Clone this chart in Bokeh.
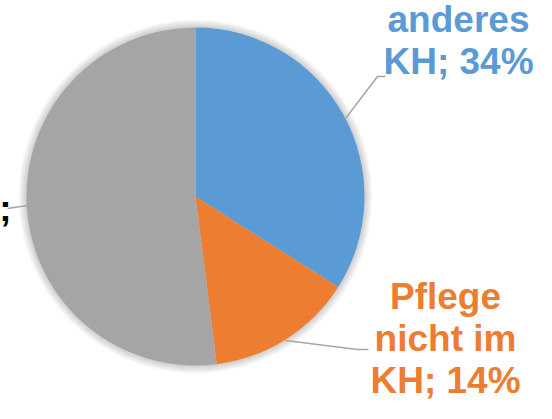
import numpy as np
from bokeh.plotting import figure
from bokeh.models import Range1d, ColumnDataSource
from bokeh.core.properties import value
from bokeh.embed import file_html
from bokeh.resources import INLINE

# ---- data ----
categories = ["anderes KH", "Pflege nicht im KH", "gleiches KH"]
shares = [34, 14, 52]
colors = ["#5B9BD5", "#ED7D31", "#A5A5A5"]
label_lines = [["anderes", "KH; 34%"], ["Pflege", "nicht im", "KH; 14%"], ["gleiches KH;"]]
label_colors = ["#5B9BD5", "#ED7D31", "#000000"]

# ---- layout (image pixel coords, y downward; data y = -img_y) ----
W, H = 536, 403
cx, cy, r = 195, 196, 169
label_anchor = [(458, 19, "center"), (445, 296, "center"), (11, 208, "right")]
line_h = 42
leaders = [
    [(345, 118), (377, 76), (385, 76)],
    [(285, 340), (357, 349), (368, 349)],
    [(27, 205), (7, 208)],
]

p = figure(width=W, height=H, x_range=Range1d(0, W), y_range=Range1d(-H, 0),
           min_border=0, toolbar_location=None, output_backend="svg")
p.axis.visible = False
p.grid.visible = False
p.outline_line_color = None
p.background_fill_color = "white"
p.border_fill_color = "white"

# soft glow around the pie
for k in range(8, 0, -1):
    p.circle(x=[cx], y=[-cy], radius=r + k, fill_color="black", fill_alpha=0.022, line_color=None)

vals = np.array(shares, dtype=float)
frac = vals / vals.sum()
cum = np.concatenate([[0], np.cumsum(frac)])
start = np.pi / 2 - 2 * np.pi * cum[:-1]
end = np.pi / 2 - 2 * np.pi * cum[1:]
src = ColumnDataSource(dict(cat=categories, start=start, end=end, color=colors))
p.wedge(x=cx, y=-cy, radius=r, start_angle="start", end_angle="end", direction="clock",
        fill_color="color", line_color=None, source=src)

for pts in leaders:
    p.line(x=[q[0] for q in pts], y=[-q[1] for q in pts], line_color="#A6A6A6", line_width=1.5)

for lines, col, (lx, ly, al) in zip(label_lines, label_colors, label_anchor):
    xs = [lx] * len(lines)
    ys = [-(ly + i * line_h) for i in range(len(lines))]
    p.text(x=xs, y=ys, text=lines, text_color=col, text_font=value("Liberation Sans"),
           text_font_style="bold", text_font_size="37px", text_align=al,
           text_baseline="alphabetic")

open("out.html", "w").write(file_html(p, INLINE))
